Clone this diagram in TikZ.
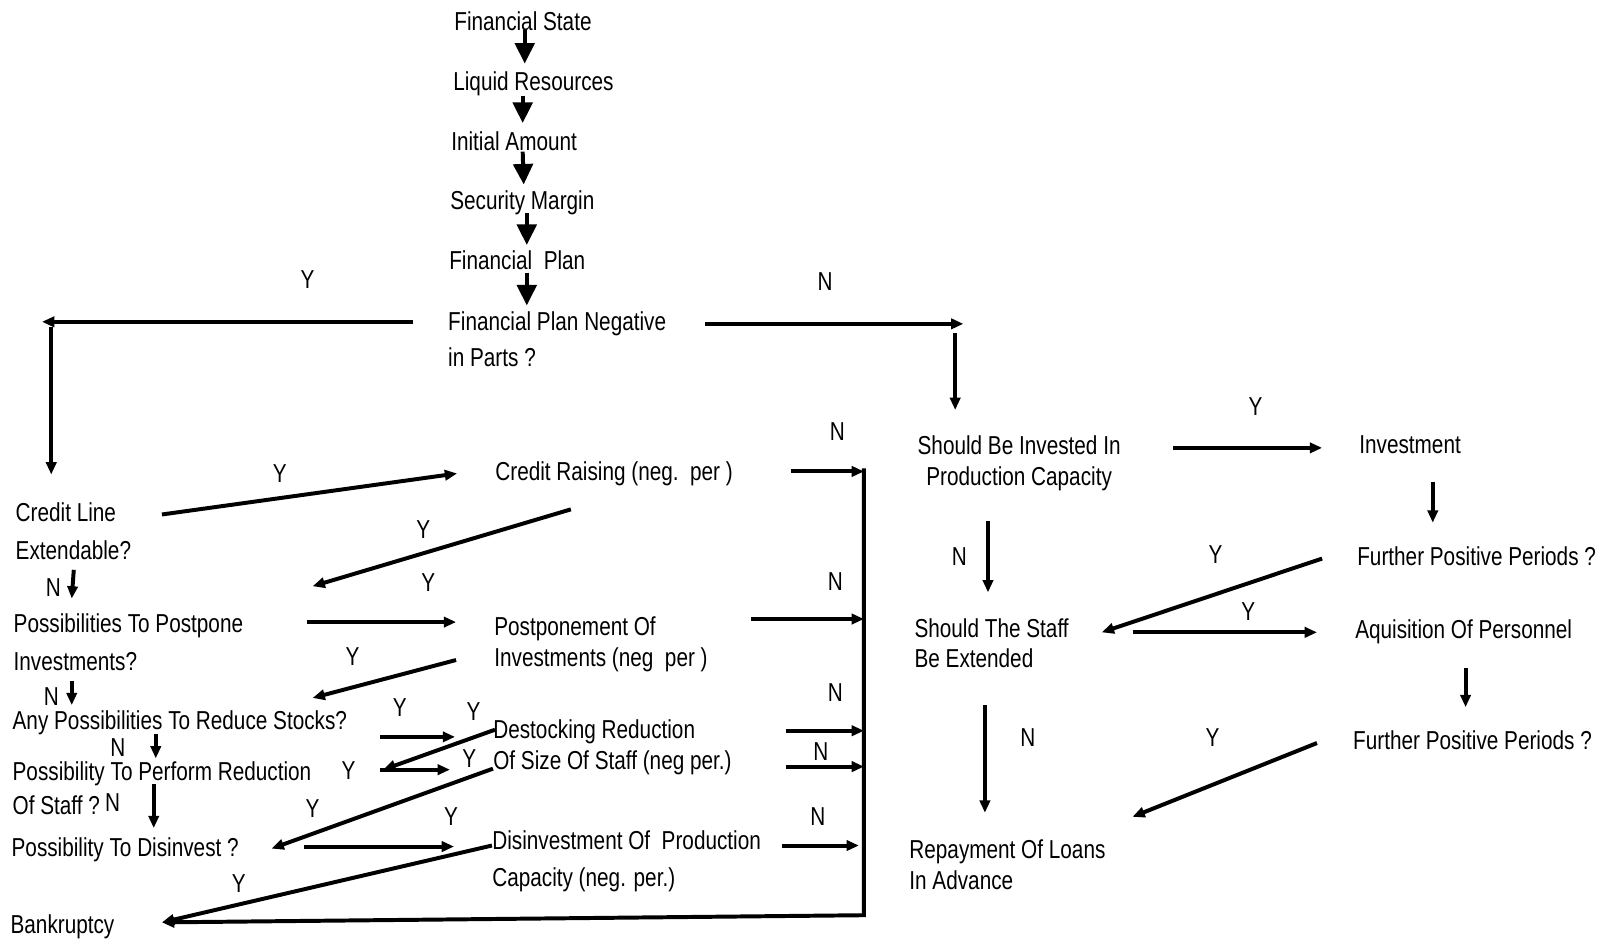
\documentclass[tikz,border=0pt]{standalone}
\usepackage{fontspec}
\setmainfont{Liberation Sans}[FakeStretch=0.80]
\usetikzlibrary{arrows.meta,calc}

\begin{document}
\begin{tikzpicture}[x=0.02cm,y=-0.02cm,
    every node/.style={font=\fontsize{14.4pt}{17pt}\selectfont},
    txt/.style={anchor=north west,inner sep=0pt,align=left},
    lbl/.style={inner sep=0pt},
    arr/.style={line width=2.2pt,-{Triangle[length=2.4mm,width=2mm]}},
    bigarr/.style={line width=2.2pt,-{Triangle[length=4mm,width=3.8mm]}}]
        \useasboundingbox (0,0) rectangle (1568,925);
        % main chain
        \node[txt] (fs)  at (443,11)  {Financial State};
        \node[txt] (lr)  at (442,70)  {Liquid Resources};
        \node[txt] (ia)  at (440,128) {Initial Amount};
        \node[txt] (sm)  at (439,186) {Security Margin};
        \node[txt] (fp)  at (438,244) {Financial\ \ Plan};
        \node[txt] (fpn) at (437,304) {Financial Plan Negative\\[2.8pt]in Parts ?};
        % right part
        \node[txt,align=center] (sbi) at (895,425) {Should Be Invested In\\Production Capacity};
        \node[txt] (inv)  at (1326,425) {Investment};
        \node[txt] (fpp1) at (1324,533) {Further Positive Periods ?};
        \node[txt] (sts)  at (892,603)  {Should The Staff\\Be Extended};
        \node[txt] (aqp)  at (1322,604) {Aquisition Of Personnel};
        \node[txt] (fpp2) at (1320,713) {Further Positive Periods ?};
        \node[txt] (rla)  at (887,819)  {Repayment Of Loans\\In Advance};
        % left part
        \node[txt] (cl)  at (15,490)  {Credit Line\\[4pt]Extendable?};
        \node[txt] (cr)  at (483,450) {Credit Raising (neg.\ \ per )};
        \node[txt] (pp)  at (13,598)  {Possibilities To Postpone\\[4.5pt]Investments?};
        \node[txt] (poi) at (482,601) {Postponement Of\\[0.6pt]Investments (neg\ \ per )};
        \node[txt] (rs)  at (12,693)  {Any Possibilities To Reduce Stocks?};
        \node[txt] (dr)  at (481,702) {Destocking Reduction\\Of Size Of Staff (neg per.)};
        \node[txt] (pr)  at (12,743)  {Possibility To Perform Reduction\\[1.7pt]Of Staff ?};
        \node[txt] (pd)  at (11,817)  {Possibility To Disinvest ?};
        \node[txt] (dpc) at (480,810) {Disinvestment Of\ \ Production\\[3.4pt]Capacity (neg. per.)};
        \node[txt] (bk)  at (10,892)  {Bankruptcy};

        \draw[bigarr] ($(fs.north west)+(69,18)$) -- ($(lr.north west)+(70,-8)$);
        \draw[bigarr] ($(lr.north west)+(68,24)$) -- ($(ia.north west)+(70,-8)$);
        \draw[bigarr] ($(ia.north west)+(70,20)$) -- ($(sm.north west)+(72,-6)$);
        \draw[bigarr] ($(sm.north west)+(75,22)$) -- ($(fp.north west)+(76,-5)$);
        \draw[bigarr] ($(fp.north west)+(76,22)$) -- ($(fpn.north west)+(77,-6)$);

        \coordinate (yturn) at (41,314);
        \coordinate (nturn) at (940,316);
        \draw[arr] ($(fpn.north west)+(-34,10)$) -- (yturn);
        \draw[arr] ($(yturn)+(9,5)$) -- ($(cl.north west)+(35,-27)$);
        \draw[arr] ($(fpn.north west)+(251,12)$) -- (nturn);
        \draw[arr] ($(nturn)+(-8,9)$) -- ($(sbi.north west)+(37,-25)$);
        \node[lbl] (y0) at (300,273) {Y};
        \node[lbl] (n0) at (805,275) {N};

        \draw[arr] ($(sbi.north west)+(250,12)$) -- ($(inv.north west)+(-36,12)$);
        \draw[arr] ($(inv.north west)+(72,45)$) -- ($(fpp1.north west)+(74,-23)$);
        \draw[arr] ($(fpp1.north west)+(-34,12)$) -- ($(sts.north west)+(183,14)$);
        \draw[arr] ($(sts.north west)+(213,14)$) -- ($(aqp.north west)+(-37,13)$);
        \draw[arr] ($(aqp.north west)+(108,48)$) -- ($(fpp2.north west)+(110,-23)$);
        \draw[arr] ($(fpp2.north west)+(-35,12)$) -- ($(rla.north west)+(218,-22)$);
        \draw[arr] ($(sbi.north west)+(69,83)$) -- ($(sts.north west)+(72,-25)$);
        \draw[arr] ($(sts.north west)+(69,85)$) -- ($(rla.north west)+(74,-26)$);
        \node[lbl] (y1) at (1225,397) {Y};
        \node[lbl] (y2) at (1186,541) {Y};
        \node[lbl] (y3) at (1218,597) {Y};
        \node[lbl] (y4) at (1183,720) {Y};
        \node[lbl] (n1) at (936,543)  {N};
        \node[lbl] (n2) at (1003,720) {N};

        \draw[arr] ($(cl.north west)+(143,12)$) -- ($(cr.north west)+(-37,12)$);
        \draw[arr] ($(cr.north west)+(74,47)$) -- ($(pp.north west)+(292,-26)$);
        \draw[arr] ($(cl.north west)+(57,66)$) -- ($(pp.north west)+(57,-14)$);
        \draw[arr] ($(pp.north west)+(287,9)$) -- ($(poi.north west)+(-37,6)$);
        \draw[arr] ($(poi.north west)+(-37,43)$) -- ($(rs.north west)+(293,-12)$);
        \draw[arr] ($(pp.north west)+(57,66)$) -- ($(rs.north west)+(58,-5)$);
        \draw[arr] ($(rs.north west)+(359,26)$) -- ($(dr.north west)+(-37,17)$);
        \draw[arr] ($(dr.north west)+(2,10)$) -- ($(pr.north west)+(362,8)$);
        \draw[arr] ($(pr.north west)+(359,8)$) -- ($(dr.north west)+(-42,49)$);
        \draw[arr] ($(rs.north west)+(140,23)$) -- ($(pr.north west)+(140,-3)$);
        \draw[arr] ($(pr.north west)+(138,22)$) -- ($(pd.north west)+(139,-9)$);
        \draw[arr] ($(dr.north west)+(0,48)$) -- ($(pd.north west)+(254,11)$);
        \draw[arr] ($(pd.north west)+(286,9)$) -- ($(dpc.north west)+(-37,16)$);
        \draw[arr] ($(dpc.north west)+(0,15)$) -- ($(bk.north west)+(148,8)$);

        \coordinate (bustop) at (843,457);
        \coordinate (busbot) at (843,893);
        \draw[arr] (bustop) -- (busbot) -- ($(bk.north west)+(148,8)$);
        \draw[arr] ($(cr.north west)+(289,10)$) coordinate (c1) -- (c1 -| bustop);
        \draw[arr] ($(poi.north west)+(251,3)$) coordinate (c2) -- (c2 -| bustop);
        \draw[arr] ($(dr.north west)+(286,11)$) coordinate (c3) -- (c3 -| bustop);
        \draw[arr] ($(dr.north west)+(286,46)$) coordinate (c4) -- (c4 -| bustop);
        \draw[arr] ($(dpc.north west)+(283,15)$) coordinate (c5) -- ($(c5 -| bustop)+(-5,0)$);

        \node[lbl] (y5)  at (273,462) {Y};
        \node[lbl] (y6)  at (413,517) {Y};
        \node[lbl] (y7)  at (418,568) {Y};
        \node[lbl] (y8)  at (344,641) {Y};
        \node[lbl] (y9)  at (390,690) {Y};
        \node[lbl] (y10) at (462,694) {Y};
        \node[lbl] (y11) at (340,752) {Y};
        \node[lbl] (y12) at (458,740) {Y};
        \node[lbl] (y13) at (305,789) {Y};
        \node[lbl] (y14) at (440,797) {Y};
        \node[lbl] (y15) at (233,862) {Y};
        \node[lbl] (n3) at (52,573)  {N};
        \node[lbl] (n4) at (50,680)  {N};
        \node[lbl] (n5) at (115,729) {N};
        \node[lbl] (n6) at (110,783) {N};
        \node[lbl] (n7) at (817,421) {N};
        \node[lbl] (n8) at (815,567) {N};
        \node[lbl] (n9) at (815,676) {N};
        \node[lbl] (n10) at (801,733) {N};
        \node[lbl] (n11) at (798,797) {N};
      \end{tikzpicture}
\end{document}
